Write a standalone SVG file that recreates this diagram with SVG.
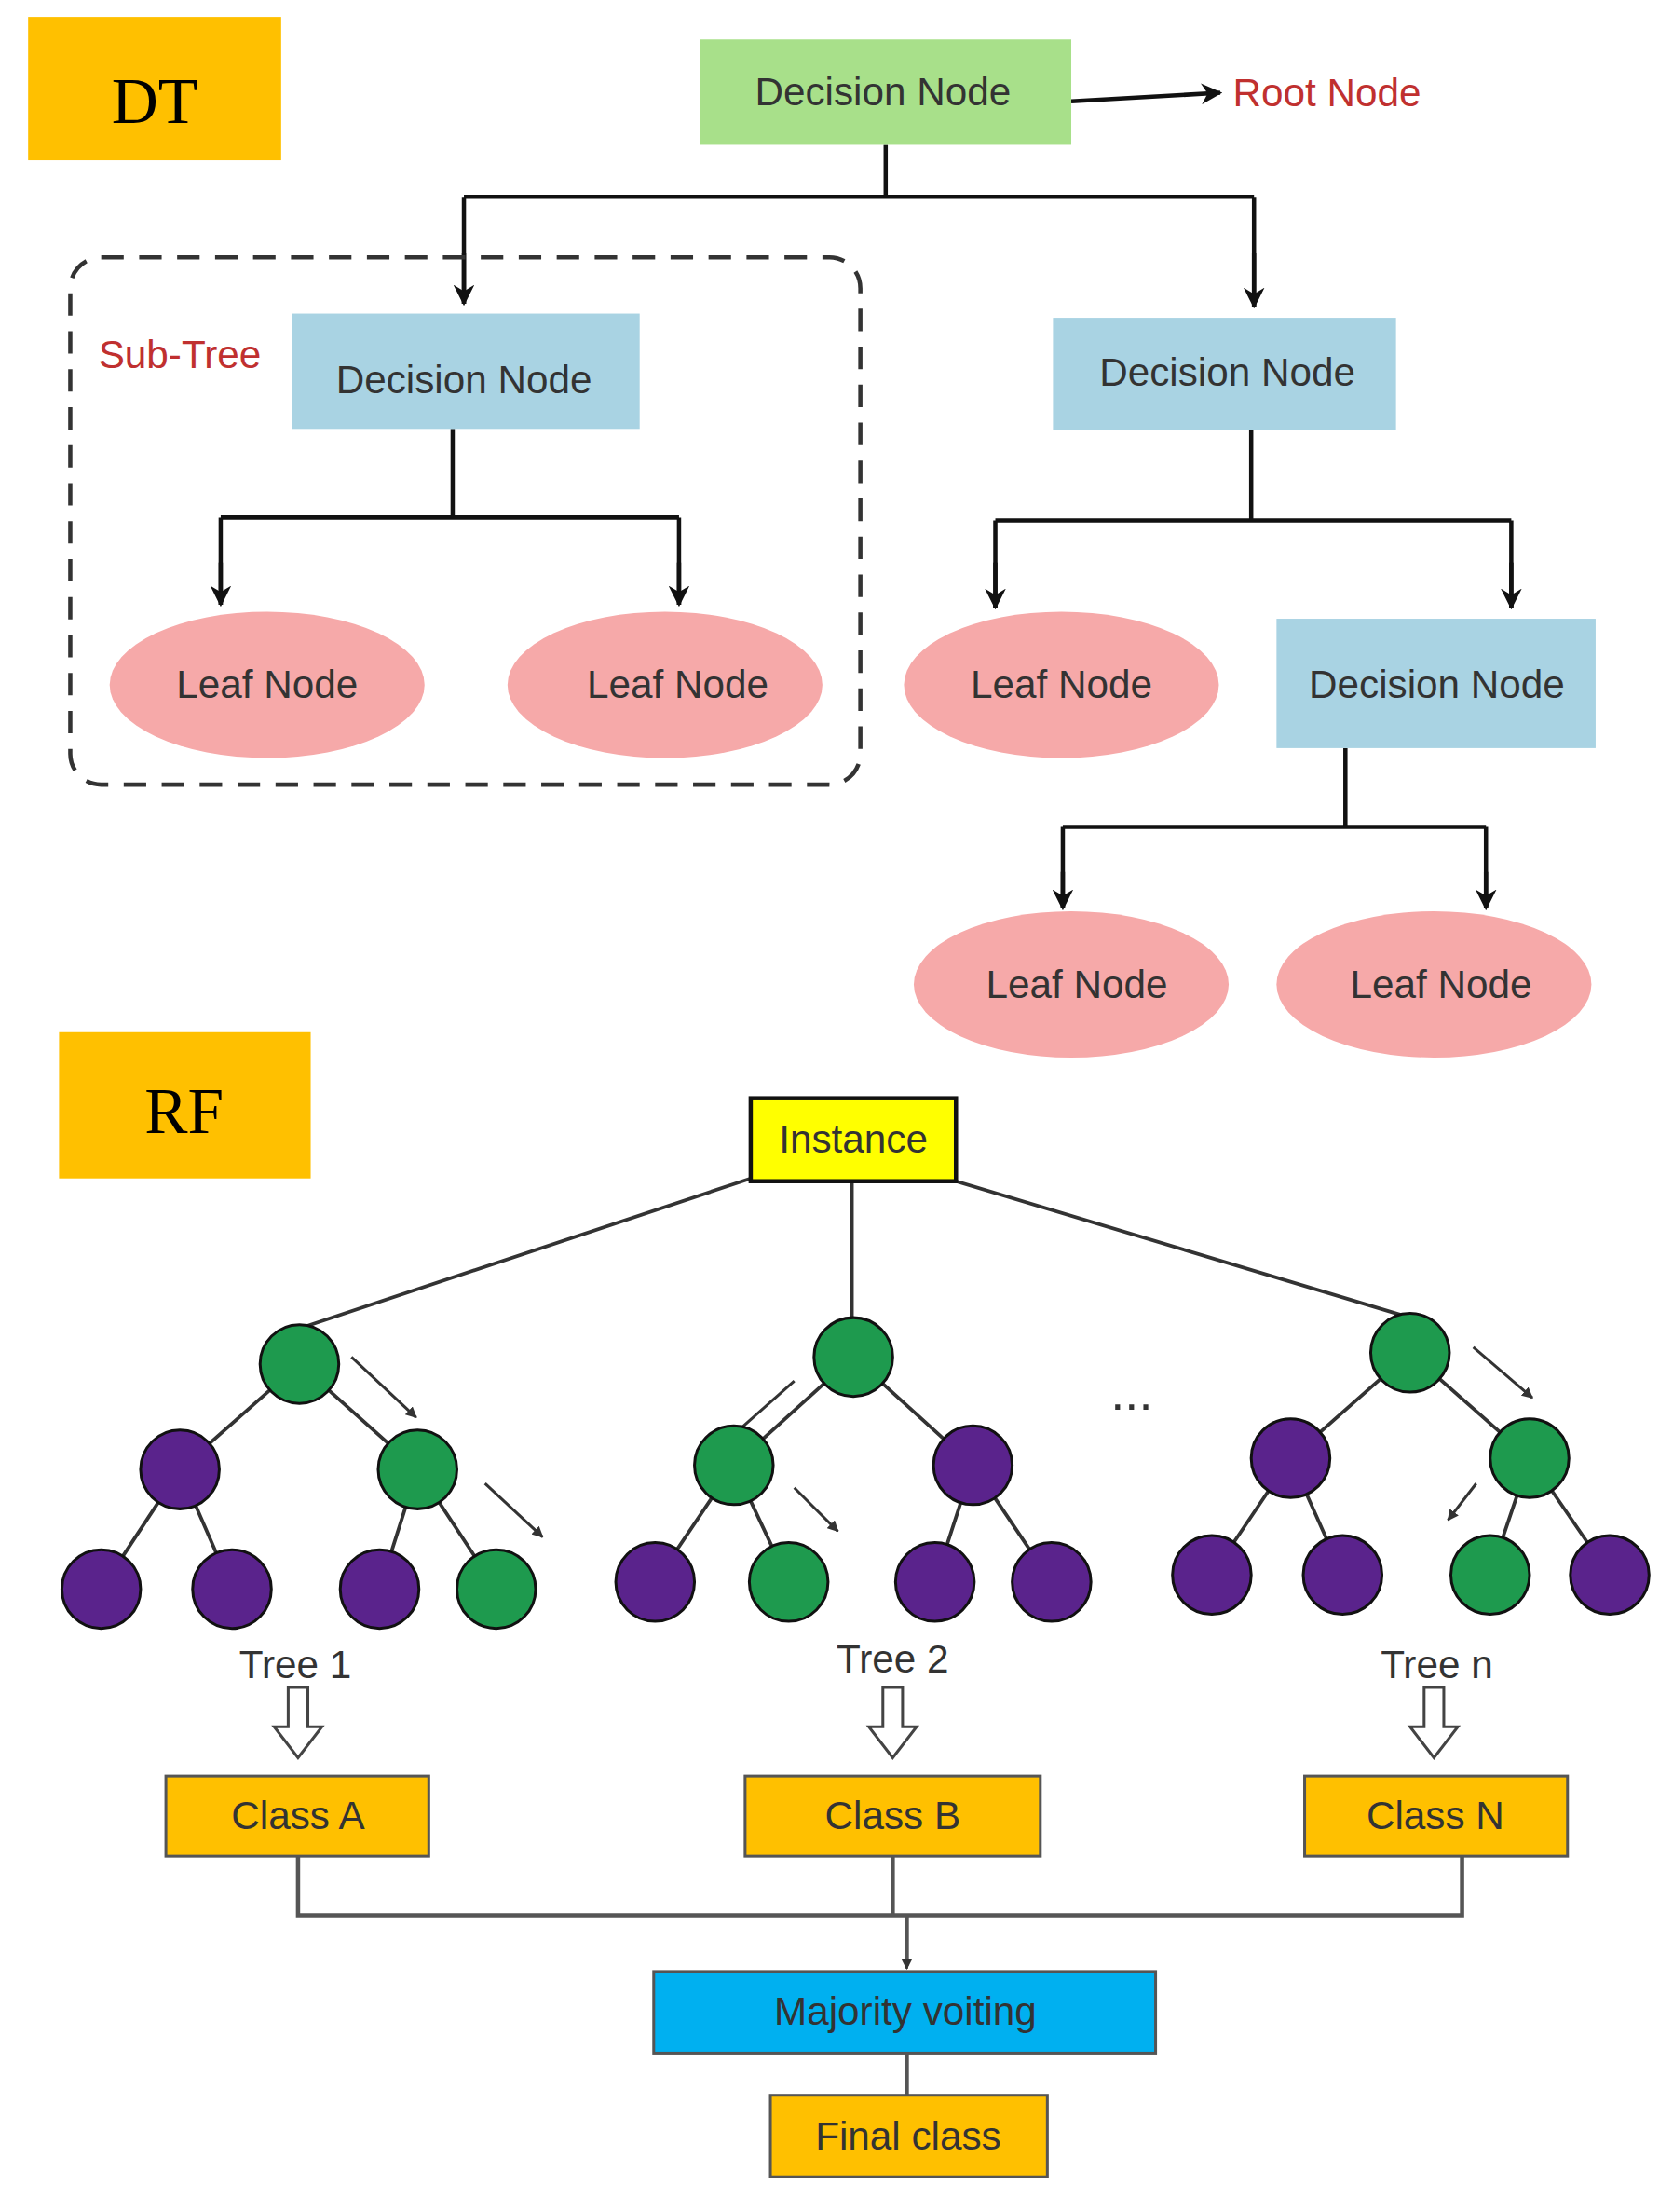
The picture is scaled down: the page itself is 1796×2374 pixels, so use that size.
<svg xmlns="http://www.w3.org/2000/svg" width="1796" height="2374" viewBox="0 0 1796 2374">
<style>
.t{font-family:"Liberation Sans",Arial,sans-serif;font-size:28px;fill:#333;text-anchor:middle;dominant-baseline:central}
.lbl{font-family:"Liberation Serif","Times New Roman",serif;font-size:46px;fill:#000;text-anchor:middle;dominant-baseline:central}
.red{font-family:"Liberation Sans",Arial,sans-serif;font-size:28px;fill:#c0302f;dominant-baseline:central}
.dn{fill:#a9d3e3}
.leaf{fill:#f6a9a9}
.ln{stroke:#111;stroke-width:3;fill:none}
.g{fill:#1e9a4e;stroke:#111;stroke-width:2}
.p{fill:#5a238c;stroke:#111;stroke-width:2}
.cls{fill:#ffc000;stroke:#555;stroke-width:2}
.sa{stroke:#333;stroke-width:2;fill:none}
</style>
<defs>
<marker id="ah" viewBox="0 0 10 10" refX="9" refY="5" markerWidth="5" markerHeight="5" orient="auto"><path d="M0,0L10,5L0,10L3,5z" fill="#111"/></marker>
<marker id="sh" viewBox="0 0 10 10" refX="9" refY="5" markerWidth="4" markerHeight="4" orient="auto"><path d="M0,0L10,5L0,10z" fill="#333"/></marker>
</defs>
<rect width="1796" height="2374" fill="#fff"/>
<g transform="scale(1.5092)">
<g id="connectors">
<path class="ln" d="M762,72L868,66" marker-end="url(#ah)"/>
<path class="ln" d="M630,103V140M330,140H892M330,140V216M892,140V218" />
<path class="ln" d="M330,180V216" marker-end="url(#ah)"/><path class="ln" d="M892,180V218" marker-end="url(#ah)"/>
<path class="ln" d="M322,305V368M157,368H483M157,368V430M483,368V430"/>
<path class="ln" d="M157,400V430" marker-end="url(#ah)"/><path class="ln" d="M483,400V430" marker-end="url(#ah)"/>
<path class="ln" d="M890,306V370M708,370H1075M708,370V432M1075,370V432"/>
<path class="ln" d="M708,400V432" marker-end="url(#ah)"/><path class="ln" d="M1075,400V432" marker-end="url(#ah)"/>
<path class="ln" d="M957,532V588M756,588H1057M756,588V646M1057,588V646"/>
<path class="ln" d="M756,620V646" marker-end="url(#ah)"/><path class="ln" d="M1057,620V646" marker-end="url(#ah)"/>
<path stroke="#333" stroke-width="2.5" fill="none" d="M534,838L212,945M606,840V940M680,840L1003,937"/>
<path stroke="#333" stroke-width="2.5" fill="none" d="M213,970L128,1045M213,970L297,1045M128,1045L72,1130M128,1045L165,1130M297,1045L270,1130M297,1045L353,1130"/>
<path stroke="#333" stroke-width="2.5" fill="none" d="M607,965L522,1042M607,965L692,1042M522,1042L466,1125M522,1042L561,1125M692,1042L665,1125M692,1042L748,1125"/>
<path stroke="#333" stroke-width="2.5" fill="none" d="M1003,962L918,1037M1003,962L1088,1037M918,1037L862,1120M918,1037L955,1120M1088,1037L1060,1120M1088,1037L1145,1120"/>
<path class="sa" d="M250,965L296,1008" marker-end="url(#sh)"/><path class="sa" d="M345,1055L386,1093" marker-end="url(#sh)"/>
<path class="sa" d="M565,982L521,1021" marker-end="url(#sh)"/><path class="sa" d="M565,1058L596,1089" marker-end="url(#sh)"/>
<path class="sa" d="M1048,958L1090,994" marker-end="url(#sh)"/><path class="sa" d="M1050,1055L1030,1081" marker-end="url(#sh)"/>
<path fill="#fff" stroke="#444" stroke-width="2" d="M205,1200h14v28h10l-17,22l-17,-22h10z"/>
<path fill="#fff" stroke="#444" stroke-width="2" d="M628,1200h14v28h10l-17,22l-17,-22h10z"/>
<path fill="#fff" stroke="#444" stroke-width="2" d="M1013,1200h14v28h10l-17,22l-17,-22h10z"/>
<path stroke="#555" stroke-width="3" fill="none" d="M212,1320V1362H1040V1320M635,1320V1362M645,1362V1398" />
<path stroke="#555" stroke-width="2" fill="none" d="M645,1380V1400" marker-end="url(#sh)"/>
<path stroke="#555" stroke-width="3" d="M645,1460V1490"/>
</g>
<g id="dt-label"><rect x="20" y="12" width="180" height="102" fill="#ffc000"/><text class="lbl" x="110" y="72">DT</text></g>
<g id="root"><rect x="498" y="28" width="264" height="75" fill="#a8e08a"/><text class="t" x="628" y="65">Decision Node</text></g>
<g id="root-label"><text class="red" x="877" y="66">Root Node</text></g>
<g id="subtree"><rect x="50" y="183" width="562" height="375" rx="22" fill="none" stroke="#333" stroke-width="3" stroke-dasharray="16,11"/><text class="red" x="70" y="252">Sub-Tree</text></g>
<g id="dn1"><rect class="dn" x="208" y="223" width="247" height="82"/><text class="t" x="330" y="270">Decision Node</text></g>
<g id="leaf1"><ellipse class="leaf" cx="190" cy="487" rx="112" ry="52"/><text class="t" x="190" y="487">Leaf Node</text></g>
<g id="leaf2"><ellipse class="leaf" cx="473" cy="487" rx="112" ry="52"/><text class="t" x="482" y="487">Leaf Node</text></g>
<g id="dn2"><rect class="dn" x="749" y="226" width="244" height="80"/><text class="t" x="873" y="265">Decision Node</text></g>
<g id="leaf3"><ellipse class="leaf" cx="755" cy="487" rx="112" ry="52"/><text class="t" x="755" y="487">Leaf Node</text></g>
<g id="dn3"><rect class="dn" x="908" y="440" width="227" height="92"/><text class="t" x="1022" y="487">Decision Node</text></g>
<g id="leaf4"><ellipse class="leaf" cx="762" cy="700" rx="112" ry="52"/><text class="t" x="766" y="700">Leaf Node</text></g>
<g id="leaf5"><ellipse class="leaf" cx="1020" cy="700" rx="112" ry="52"/><text class="t" x="1025" y="700">Leaf Node</text></g>
<g id="rf-label"><rect x="42" y="734" width="179" height="104" fill="#ffc000"/><text class="lbl" x="131" y="790">RF</text></g>
<g id="instance"><rect x="534" y="781" width="146" height="59" fill="#ffff00" stroke="#111" stroke-width="3"/><text class="t" x="607" y="810">Instance</text></g>
<g id="tree1">
<circle class="g" cx="213" cy="970" r="28"/><circle class="p" cx="128" cy="1045" r="28"/><circle class="g" cx="297" cy="1045" r="28"/>
<circle class="p" cx="72" cy="1130" r="28"/><circle class="p" cx="165" cy="1130" r="28"/><circle class="p" cx="270" cy="1130" r="28"/><circle class="g" cx="353" cy="1130" r="28"/>
<text class="t" x="210" y="1184">Tree 1</text></g>
<g id="tree2">
<circle class="g" cx="607" cy="965" r="28"/><circle class="g" cx="522" cy="1042" r="28"/><circle class="p" cx="692" cy="1042" r="28"/>
<circle class="p" cx="466" cy="1125" r="28"/><circle class="g" cx="561" cy="1125" r="28"/><circle class="p" cx="665" cy="1125" r="28"/><circle class="p" cx="748" cy="1125" r="28"/>
<text class="t" x="635" y="1180">Tree 2</text></g>
<text class="t" x="805" y="990" style="font-size:36px">...</text>
<g id="treen">
<circle class="g" cx="1003" cy="962" r="28"/><circle class="p" cx="918" cy="1037" r="28"/><circle class="g" cx="1088" cy="1037" r="28"/>
<circle class="p" cx="862" cy="1120" r="28"/><circle class="p" cx="955" cy="1120" r="28"/><circle class="g" cx="1060" cy="1120" r="28"/><circle class="p" cx="1145" cy="1120" r="28"/>
<text class="t" x="1022" y="1184">Tree n</text></g>
<g id="classA"><rect class="cls" x="118" y="1263" width="187" height="57"/><text class="t" x="212" y="1291">Class A</text></g>
<g id="classB"><rect class="cls" x="530" y="1263" width="210" height="57"/><text class="t" x="635" y="1291">Class B</text></g>
<g id="classN"><rect class="cls" x="928" y="1263" width="187" height="57"/><text class="t" x="1021" y="1291">Class N</text></g>
<g id="majority"><rect x="465" y="1402" width="357" height="58" fill="#00b0f0" stroke="#555" stroke-width="2"/><text class="t" x="644" y="1430">Majority voiting</text></g>
<g id="final"><rect class="cls" x="548" y="1490" width="197" height="58"/><text class="t" x="646" y="1519">Final class</text></g>
</g>
</svg>
